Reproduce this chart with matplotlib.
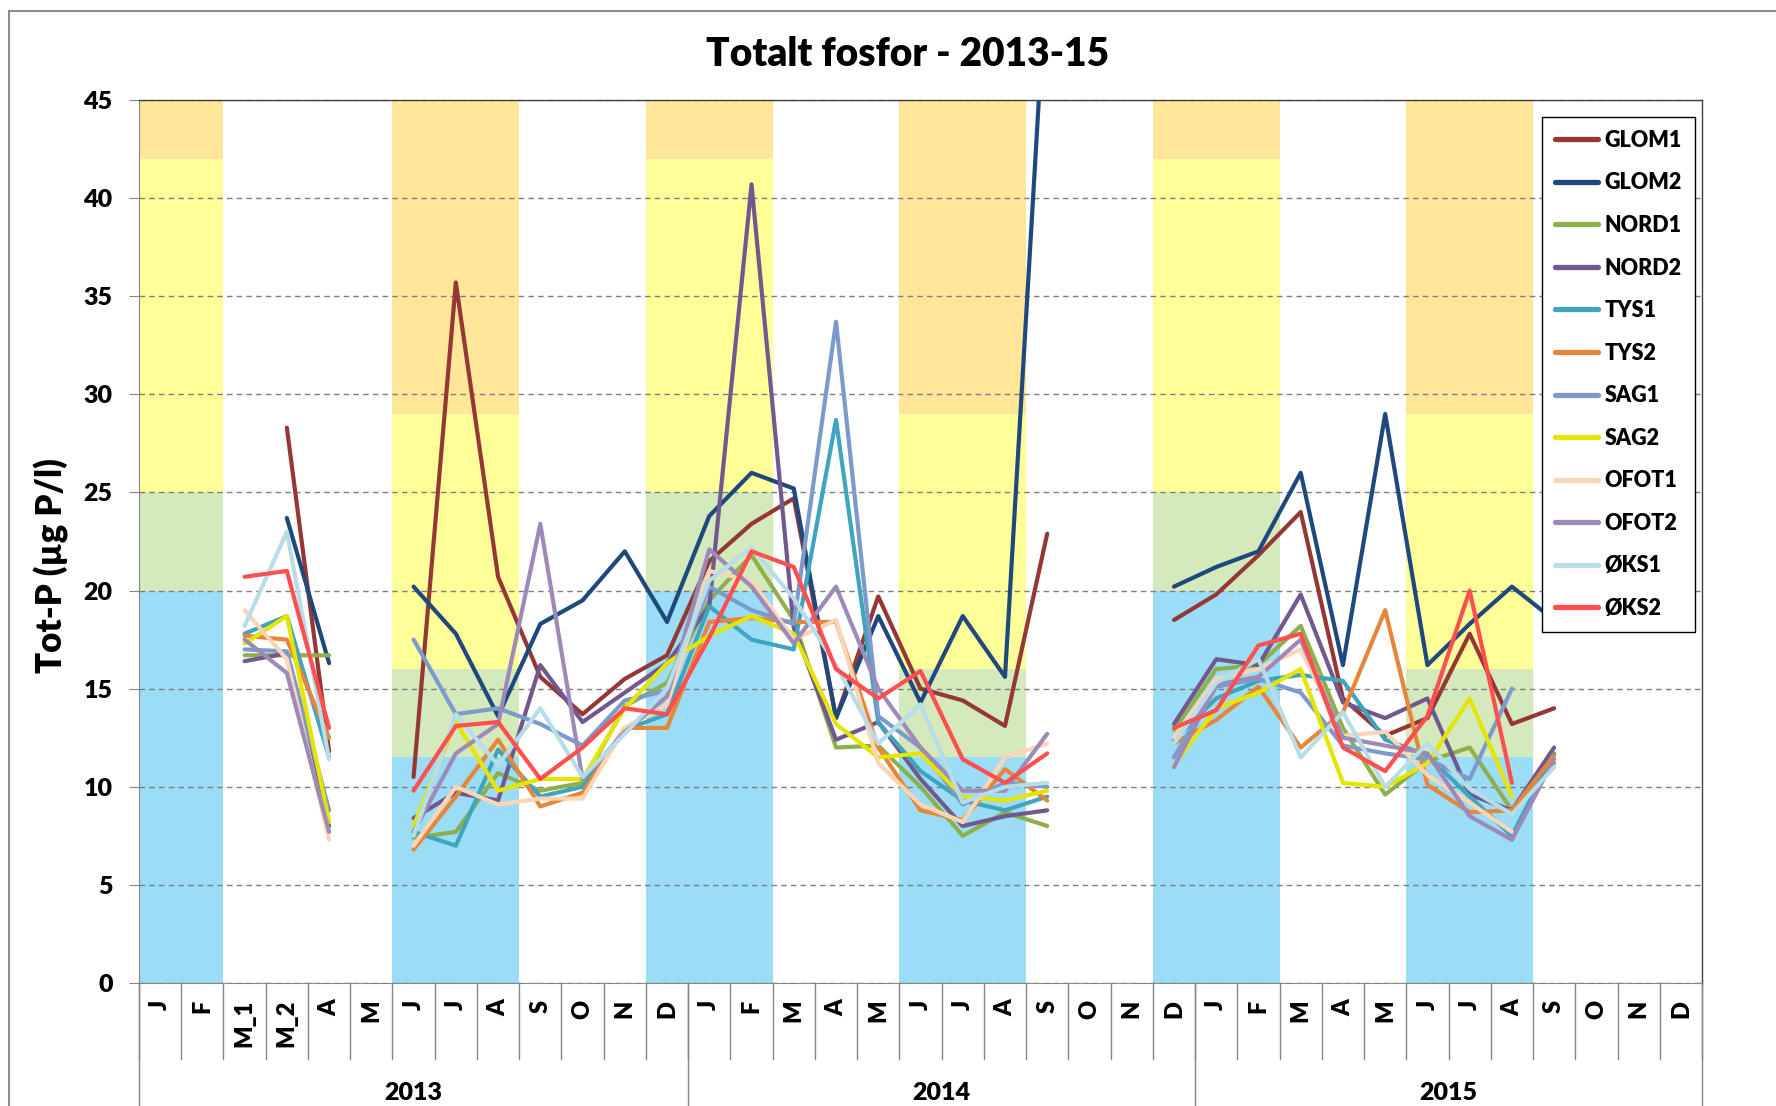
import numpy as np
import matplotlib.pyplot as plt
from matplotlib.patches import Rectangle

plt.rcParams['font.family'] = ['Lato', 'DejaVu Sans']
plt.rcParams['font.weight'] = 'heavy'

# category axis
months_2013 = ['J', 'F', 'M_1', 'M_2', 'A', 'M', 'J', 'J', 'A', 'S', 'O', 'N', 'D']
months = ['J', 'F', 'M', 'A', 'M', 'J', 'J', 'A', 'S', 'O', 'N', 'D']
years = ['2013', '2014', '2015']
year_sizes = [len(months_2013), len(months), len(months)]
categories = months_2013 + months + months

# background classes per category: W = winter limits, S = summer limits
season = (['W', 'W', '', '', '', '', 'S', 'S', 'S', '', '', '', 'W']
          + ['W', 'W', '', '', '', 'S', 'S', 'S', '', '', '', 'W']
          + ['W', 'W', '', '', '', 'S', 'S', 'S', '', '', '', ''])
winter_limits = [20, 25, 42, 45]
summer_limits = [11.5, 16, 29, 45]
band_colors = ['#9bddf6', '#d4eabc', '#ffff99', '#ffe699']

# Tot-P values (µg P/l), None = no sample
glom1 = [None, None, None, 28.3, 11.8, None,
         10.5, 35.7, 20.7, 15.6, 13.7, 15.5, 16.7, 21.5, 23.4, 24.7, 13.5, 19.7, 15.0, 14.4, 13.1, 22.9,
         None, None,
         18.5, 19.8, 21.8, 24.0, 14.5, 12.6, 13.5, 17.8, 13.2, 14.0,
         None, None, None]
glom2 = [None, None, None, 23.7, 16.3, None,
         20.2, 17.8, 13.6, 18.3, 19.5, 22.0, 18.4, 23.8, 26.0, 25.2, 13.5, 18.7, 14.3, 18.7, 15.6, 52.3,
         None, None,
         20.2, 21.2, 22.0, 26.0, 16.2, 29.0, 16.2, 18.3, 20.2, 18.5,
         None, None, None]
nord1 = [None, None, 16.7, 16.7, 16.7, None,
         7.4, 7.7, 10.7, 9.8, 10.2, 14.1, 15.3, 19.5, 21.8, 18.5, 12.0, 12.1, 10.0, 7.5, 8.7, 8.0,
         None, None,
         12.9, 16.0, 16.2, 18.2, 13.0, 9.6, 11.3, 12.0, 8.8, 11.2,
         None, None, None]
nord2 = [None, None, 16.4, 16.8, 8.0, None,
         8.4, 9.7, 9.3, 16.2, 13.3, 14.8, 16.3, 19.2, 40.7, 18.1, 12.4, 13.3, 10.4, 8.0, 8.5, 8.8,
         None, None,
         13.2, 16.5, 16.2, 19.8, 14.3, 13.5, 14.5, 9.6, 8.8, 12.0,
         None, None, None]
tys1 = [None, None, 17.8, 18.7, 11.5, None,
        7.7, 7.0, 11.9, 9.5, 10.0, 12.9, 13.7, 19.2, 17.5, 17.0, 28.7, 13.3, 10.8, 9.3, 8.8, 9.5,
        None, None,
        12.4, 14.5, 15.4, 15.7, 15.4, 12.4, 11.6, 9.5, 7.5, 11.7,
        None, None, None]
tys2 = [None, None, 17.7, 17.5, 12.5, None,
        6.8, 9.5, 12.4, 9.0, 9.7, 13.0, 13.0, 18.4, 18.6, 18.4, 18.4, 12.0, 8.8, 8.3, 10.9, 9.3,
        None, None,
        12.2, 13.4, 15.1, 12.0, 13.8, 19.0, 10.1, 8.7, 8.8, 11.6,
        None, None, None]
sag1 = [None, None, 17.0, 16.9, 8.8, None,
        17.5, 13.7, 14.0, 13.2, 12.1, 14.4, 14.9, 20.2, 19.0, 18.3, 33.7, 13.6, 12.0, 9.1, 10.2, 10.0,
        None, None,
        11.5, 15.1, 15.5, 14.8, 12.1, 11.7, 11.4, 10.4, 15.0, None,
        None, None, None]
sag2 = [None, None, 17.3, 18.7, 8.2, None,
        8.0, 13.3, 9.8, 10.4, 10.4, 14.0, 16.3, 17.7, 18.7, 17.8, 13.2, 11.5, 11.7, 9.5, 9.3, 9.8,
        None, None,
        11.1, 14.0, 14.8, 16.0, 10.2, 10.0, 11.2, 14.5, 9.5, None,
        None, None, None]
ofot1 = [None, None, 19.0, 16.5, 7.3, None,
         7.0, 10.0, 9.1, 9.4, 9.4, 13.0, 14.2, 21.0, 20.5, 17.5, 18.5, 11.2, 9.1, 8.2, 11.5, 12.2,
         None, None,
         12.5, 15.5, 16.0, 17.0, 12.6, 12.8, 10.6, 9.2, 7.7, None,
         None, None, None]
ofot2 = [None, None, 17.5, 15.8, 7.7, None,
         7.7, 11.7, 13.2, 23.4, 10.4, 12.8, 14.6, 22.1, 20.2, 17.3, 20.2, 15.0, 12.0, 9.8, 9.8, 12.7,
         None, None,
         11.0, 15.2, 15.6, 17.5, 12.5, 12.1, 11.7, 8.5, 7.3, 11.4,
         None, None, None]
oks1 = [None, None, 18.2, 23.0, 11.4, None,
        7.5, 13.7, 11.1, 14.0, 10.5, 12.7, 15.0, 20.5, 22.2, 19.6, 16.2, 12.2, 14.2, 9.2, 10.0, 10.2,
        None, None,
        12.2, 15.3, 16.5, 11.5, 13.8, 10.0, 12.2, 9.9, 8.6, 11.0,
        None, None, None]
oks2 = [None, None, 20.7, 21.0, 13.0, None,
        9.8, 13.1, 13.3, 10.4, 12.0, 14.0, 13.7, 17.6, 22.0, 21.2, 16.0, 14.5, 15.9, 11.4, 10.2, 11.7,
        None, None,
        13.0, 13.9, 17.2, 17.8, 12.0, 10.8, 13.6, 20.0, 10.2, None,
        None, None, None]

names = ['GLOM1', 'GLOM2', 'NORD1', 'NORD2', 'TYS1', 'TYS2',
         'SAG1', 'SAG2', 'OFOT1', 'OFOT2', 'ØKS1', 'ØKS2']
series = [glom1, glom2, nord1, nord2, tys1, tys2, sag1, sag2, ofot1, ofot2, oks1, oks2]
colors = ['#953735', '#1f497d', '#8eb04b', '#71588f', '#3fa4bd', '#e6863b',
          '#7c9acb', '#e5e500', '#fcd5b5', '#9d8ab8', '#b7dde8', '#ff4f4f']

fig = plt.figure(figsize=(17.76, 11.06), dpi=100)
fig.patches.append(Rectangle((9 / 1776, -0.5), 2, 1.49, transform=fig.transFigure,
                             fill=False, edgecolor='#8c8c8c', lw=1.5))
ax = fig.add_axes([139 / 1776, 1 - 983 / 1106, (1702 - 139) / 1776, (983 - 100) / 1106])

x = np.arange(len(categories))

# coloured class bands
for i, s in enumerate(season):
    if s == '':
        continue
    limits = winter_limits if s == 'W' else summer_limits
    bottom = 0
    for top, c in zip(limits, band_colors):
        ax.bar(x[i], top - bottom, bottom=bottom, width=1.0, color=c, linewidth=0, zorder=0.2)
        bottom = top

for vals, name, c in zip(series, names, colors):
    y = np.array([np.nan if v is None else v for v in vals])
    ax.plot(x, y, color=c, lw=3.0, label=name, solid_joinstyle='round',
            solid_capstyle='round', zorder=3)

ax.set_xlim(-0.5, len(categories) - 0.5)
ax.set_ylim(0, 45)
ax.set_yticks(range(0, 46, 5))
ax.set_axisbelow(True)
ax.yaxis.grid(True, linestyle=(0, (4, 3)), color='#7f7f7f', lw=1)
ax.tick_params(axis='y', labelsize=18, length=7, color='#868686', pad=12)

ax.set_xticks(x)
ax.set_xticklabels(categories, rotation=90, va='top', fontsize=17)
ax.tick_params(axis='x', length=0, pad=12)

for side in ['left', 'bottom']:
    ax.spines[side].set_color('#868686')
for side in ['top', 'right']:
    ax.spines[side].set_color('#404040')
    ax.spines[side].set_linewidth(1)

# category separators and year groups
tr = ax.get_xaxis_transform()
for b in range(len(categories) + 1):
    ax.plot([b - 0.5, b - 0.5], [0, -0.086], transform=tr, clip_on=False,
            color='#868686', lw=1)
start = 0
for year, n in zip(years, year_sizes):
    ax.plot([start - 0.5, start - 0.5], [0, -0.2], transform=tr, clip_on=False,
            color='#868686', lw=1)
    ax.text(start + n / 2 - 0.5, -0.125, year, transform=tr, ha='center', va='center',
            fontsize=18)
    start += n
ax.plot([start - 0.5, start - 0.5], [0, -0.2], transform=tr, clip_on=False,
        color='#868686', lw=1)

leg = ax.legend(loc='upper right', bbox_to_anchor=(1695 / 1776, 1 - 117 / 1106),
                bbox_transform=fig.transFigure, borderaxespad=0, fontsize=15.5,
                handlelength=2.0, labelspacing=1.0, fancybox=False, edgecolor='black',
                framealpha=1, borderpad=0.6, handletextpad=0.3)
leg.get_frame().set_linewidth(1)
for line in leg.get_lines():
    line.set_linewidth(3.8)

fig.text(908 / 1776, 1 - 55 / 1106, 'Totalt fosfor - 2013-15', ha='center', va='center',
         fontsize=28)
fig.text(51 / 1776, 1 - 566 / 1106, 'Tot-P (µg P/l)', ha='center', va='center',
         rotation=90, fontsize=25)

fig.savefig('out.png', dpi=100)
